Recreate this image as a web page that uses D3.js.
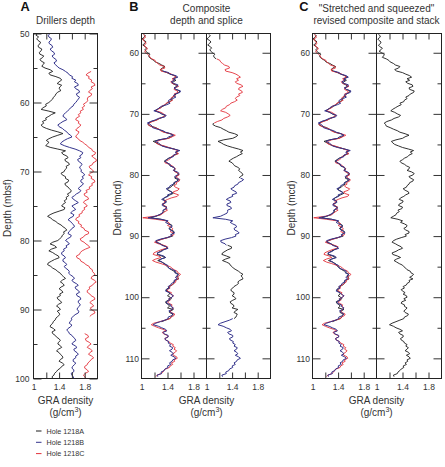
<!DOCTYPE html>
<html><head><meta charset="utf-8">
<script src="https://cdn.jsdelivr.net/npm/d3@7"></script>
<style>body{margin:0;background:#fff}svg{display:block}</style>
</head><body><svg id="c" width="445" height="467"></svg>
<script>
// ---------------- DATA ----------------
const mbsfDepth = [
50,50.25,50.5,50.75,51,51.25,51.5,51.75,52,52.25,52.5,52.75,53,53.25,53.5,53.75,54,54.25,54.5,54.75,
55,55.25,55.5,55.75,56,56.25,56.5,56.75,57,57.25,57.5,57.75,58,58.25,58.5,58.75,59,59.25,59.5,59.75,
60,60.25,60.5,60.75,61,61.25,61.5,61.75,62,62.25,62.5,62.75,63,63.25,63.5,63.75,64,64.25,64.5,64.75,
65,65.25,65.5,65.75,66,66.25,66.5,66.75,67,67.25,67.5,67.75,68,68.25,68.5,68.75,69,69.25,69.5,69.75,
70,70.25,70.5,70.75,71,71.25,71.5,71.75,72,72.25,72.5,72.75,73,73.25,73.5,73.75,74,74.25,74.5,74.75,
75,75.25,75.5,75.75,76,76.25,76.5,76.75,77,77.25,77.5,77.75,78,78.25,78.5,78.75,79,79.25,79.5,79.75,
80,80.25,80.5,80.75,81,81.25,81.5,81.75,82,82.25,82.5,82.75,83,83.25,83.5,83.75,84,84.25,84.5,84.75,
85,85.25,85.5,85.75,86,86.25,86.5,86.75,87,87.25,87.5,87.75,88,88.25,88.5,88.75,89,89.25,89.5,89.75,
90,90.25,90.5,90.75,91,91.25,91.5,91.75,92,92.25,92.5,92.75,93,93.25,93.5,93.75,94,94.25,94.5,94.75,
95,95.25,95.5,95.75,96,96.25,96.5,96.75,97,97.25,97.5,97.75,98,98.25,98.5,98.75,99,99.25,99.5,99.75,
100];
const holeA_mbsf = [
1.06,1.04,1.08,1.05,1.07,1.11,1.10,1.07,1.08,1.13,1.12,1.09,1.10,1.16,1.14,1.10,1.12,1.17,1.15,1.13,
1.18,1.26,1.30,1.24,1.26,1.35,1.42,1.44,1.40,1.37,1.44,1.41,1.40,1.43,1.38,1.35,1.34,1.31,1.30,1.27,
1.24,1.19,1.20,1.15,1.12,1.24,1.34,1.28,1.24,1.19,1.20,1.14,1.16,1.12,1.14,1.20,1.28,1.38,1.46,1.38,
1.30,1.24,1.20,1.24,1.22,1.19,1.26,1.38,1.50,1.44,1.46,1.52,1.54,1.49,1.50,1.55,1.56,1.51,1.52,1.49,
1.48,1.43,1.45,1.50,1.50,1.55,1.54,1.49,1.50,1.54,1.56,1.59,1.58,1.53,1.55,1.51,1.52,1.48,1.50,1.46,
1.44,1.49,1.48,1.40,1.32,1.26,1.22,1.27,1.30,1.35,1.38,1.43,1.46,1.50,1.52,1.47,1.48,1.45,1.44,1.41,
1.38,1.30,1.26,1.33,1.36,1.28,1.24,1.30,1.34,1.39,1.40,1.33,1.28,1.23,1.22,1.27,1.30,1.35,1.38,1.42,
1.44,1.47,1.50,1.45,1.42,1.46,1.48,1.43,1.40,1.44,1.46,1.41,1.42,1.37,1.38,1.42,1.44,1.39,1.36,1.40,
1.42,1.37,1.40,1.41,1.38,1.35,1.34,1.31,1.30,1.27,1.26,1.31,1.34,1.29,1.30,1.34,1.36,1.40,1.42,1.39,
1.38,1.42,1.44,1.39,1.36,1.40,1.42,1.45,1.46,1.42,1.40,1.45,1.48,1.44,1.42,1.38,1.36,1.33,1.32,1.29,
1.30];
const holeB_mbsf = [
1.26,1.23,1.24,1.28,1.27,1.24,1.25,1.29,1.30,1.26,1.28,1.32,1.33,1.29,1.31,1.35,1.36,1.32,1.34,1.37,
1.40,1.46,1.50,1.54,1.56,1.61,1.60,1.66,1.64,1.69,1.70,1.64,1.66,1.71,1.72,1.67,1.68,1.72,1.70,1.68,
1.66,1.63,1.62,1.58,1.56,1.53,1.50,1.47,1.46,1.50,1.52,1.46,1.42,1.38,1.40,1.45,1.48,1.52,1.54,1.58,
1.60,1.53,1.48,1.44,1.42,1.48,1.56,1.65,1.72,1.77,1.76,1.72,1.74,1.69,1.70,1.74,1.76,1.73,1.72,1.75,
1.74,1.78,1.80,1.76,1.78,1.74,1.74,1.78,1.76,1.72,1.70,1.74,1.72,1.67,1.64,1.60,1.62,1.66,1.70,1.65,
1.60,1.63,1.66,1.61,1.58,1.63,1.62,1.57,1.54,1.58,1.60,1.63,1.64,1.60,1.58,1.55,1.54,1.59,1.58,1.53,
1.50,1.54,1.56,1.51,1.52,1.47,1.48,1.44,1.44,1.48,1.50,1.46,1.46,1.50,1.52,1.48,1.50,1.54,1.56,1.55,
1.58,1.62,1.64,1.60,1.62,1.67,1.70,1.65,1.66,1.70,1.72,1.67,1.68,1.73,1.74,1.70,1.70,1.73,1.72,1.69,
1.68,1.71,1.70,1.65,1.62,1.59,1.60,1.57,1.56,1.60,1.58,1.54,1.52,1.55,1.56,1.60,1.62,1.65,1.66,1.62,
1.60,1.65,1.68,1.63,1.64,1.68,1.70,1.66,1.66,1.62,1.62,1.66,1.64,1.61,1.60,1.63,1.63,1.59,1.60,1.62,
1.63];
const holeC_mbsf = [
null,null,null,null,null,null,null,null,null,null,null,null,null,null,null,null,null,null,null,null,
null,null,1.90,1.85,1.82,1.87,1.86,1.91,1.90,1.95,1.96,1.90,1.92,1.88,1.86,1.91,1.90,1.85,1.84,1.85,
1.82,1.78,1.80,1.76,1.78,1.73,1.74,1.70,1.72,1.67,1.66,1.71,1.70,1.74,1.72,1.68,1.66,1.71,1.70,1.67,
1.66,1.70,1.72,1.77,1.80,1.84,1.86,1.91,1.92,1.97,1.96,1.91,1.94,1.98,1.98,1.93,1.92,1.87,1.88,1.92,
1.94,1.89,1.86,1.91,1.90,1.95,1.96,1.91,1.92,1.87,1.88,1.82,1.84,1.79,1.80,1.85,1.86,1.80,1.78,1.82,
1.84,1.79,1.80,1.76,1.76,1.71,1.72,1.67,1.66,1.71,1.70,1.75,1.74,1.79,1.80,1.86,1.86,1.80,1.78,1.73,
1.74,1.79,1.82,1.86,1.88,1.81,1.76,1.73,1.72,1.67,1.68,1.73,1.74,1.79,1.82,1.87,1.88,1.92,1.92,1.95,
1.96,1.91,1.90,1.95,1.98,1.94,1.92,1.87,1.88,1.84,1.84,1.88,1.90,1.95,1.96,1.91,1.88,1.92,1.94,1.89,
1.90,1.95,1.96,1.91,1.88,null,null,null,null,null,null,null,null,null,1.80,1.85,1.86,1.81,1.82,1.87,
1.90,1.86,1.84,1.89,1.92,1.88,1.86,1.91,1.94,1.90,1.88,1.85,1.84,1.80,1.80,1.84,1.86,1.81,1.78,1.80,
1.82];

const mcdDepth = [
57,57.25,57.5,57.75,58,58.25,58.5,58.75,59,59.25,59.5,59.75,60,60.25,60.5,60.75,61,61.25,61.5,61.75,
62,62.25,62.5,62.75,63,63.25,63.5,63.75,64,64.25,64.5,64.75,65,65.25,65.5,65.75,66,66.25,66.5,66.75,
67,67.25,67.5,67.75,68,68.25,68.5,68.75,69,69.25,69.5,69.75,70,70.25,70.5,70.75,71,71.25,71.5,71.75,
72,72.25,72.5,72.75,73,73.25,73.5,73.75,74,74.25,74.5,74.75,75,75.25,75.5,75.75,76,76.25,76.5,76.75,
77,77.25,77.5,77.75,78,78.25,78.5,78.75,79,79.25,79.5,79.75,80,80.25,80.5,80.75,81,81.25,81.5,81.75,
82,82.25,82.5,82.75,83,83.25,83.5,83.75,84,84.25,84.5,84.75,85,85.25,85.5,85.75,86,86.25,86.5,86.75,
87,87.25,87.5,87.75,88,88.25,88.5,88.75,89,89.25,89.5,89.75,90,90.25,90.5,90.75,91,91.25,91.5,91.75,
92,92.25,92.5,92.75,93,93.25,93.5,93.75,94,94.25,94.5,94.75,95,95.25,95.5,95.75,96,96.25,96.5,96.75,
97,97.25,97.5,97.75,98,98.25,98.5,98.75,99,99.25,99.5,99.75,100,100.25,100.5,100.75,101,101.25,101.5,101.75,
102,102.25,102.5,102.75,103,103.25,103.5,103.75,104,104.25,104.5,104.75,105,105.25,105.5,105.75,106,106.25,106.5,106.75,
107,107.25,107.5,107.75,108,108.25,108.5,108.75,109,109.25,109.5,109.75,110,110.25,110.5,110.75,111,111.25,111.5,111.75,
112,112.25,112.5,112.75,113];
const holeA_mcd = [
1.04,1.06,1.03,1.01,1.05,1.07,1.04,1.02,1.06,1.08,1.05,1.07,1.09,1.13,1.11,1.12,1.15,1.19,1.21,1.27,
1.31,1.36,1.32,1.29,1.33,1.39,1.44,1.51,1.54,1.49,1.53,1.49,1.47,1.52,1.55,1.50,1.53,1.59,1.57,1.53,
1.51,1.49,1.46,1.47,1.43,1.39,1.37,1.33,1.29,1.24,1.21,1.27,1.31,1.36,1.34,1.28,1.23,1.15,1.11,1.10,
1.14,1.22,1.26,1.31,1.35,1.44,1.49,1.46,1.41,1.27,1.18,1.23,1.27,1.33,1.41,1.50,1.57,1.53,1.56,1.51,
1.47,1.42,1.38,1.35,1.40,1.42,1.44,1.49,1.52,1.50,1.53,1.56,1.57,1.53,1.51,1.56,1.55,1.50,1.51,1.47,
1.45,1.40,1.41,1.46,1.49,1.44,1.39,1.35,1.33,1.38,1.37,1.33,1.34,1.39,1.37,1.34,1.35,1.31,1.29,1.22,
1.14,1.30,1.39,1.41,1.43,1.47,1.45,1.42,1.46,1.50,1.49,1.46,1.48,1.40,1.31,1.25,1.22,1.29,1.33,1.39,
1.39,1.33,1.29,1.25,1.24,1.31,1.37,1.30,1.25,1.31,1.36,1.37,1.40,1.42,1.46,1.50,1.53,1.57,1.54,1.56,
1.57,1.52,1.49,1.50,1.47,1.43,1.41,1.38,1.39,1.43,1.43,1.40,1.44,1.46,1.41,1.37,1.38,1.42,1.43,1.40,
1.49,1.45,1.43,1.48,1.47,1.46,1.43,1.37,1.31,null,null,null,null,null,null,null,null,null,null,null,
null,null,null,null,null,null,null,null,null,null,null,null,null,null,null,null,null,null,null,null,
null,null,null,null,null];
const holeB_mcd = [
null,null,null,null,null,null,null,null,null,null,null,null,null,null,null,null,null,null,null,null,
null,null,null,null,1.33,1.42,1.44,1.53,1.56,1.49,1.51,1.46,1.49,1.56,1.55,1.50,1.53,1.60,1.59,1.52,
1.49,1.53,1.48,1.42,1.41,1.44,1.39,1.31,1.27,1.25,1.19,1.27,1.31,1.38,1.36,1.26,1.21,1.14,1.09,1.14,
1.16,1.17,1.24,1.33,1.37,1.45,1.49,1.42,1.39,1.27,1.21,1.26,1.29,1.31,1.39,1.50,1.59,1.52,1.54,1.49,
1.49,1.42,1.39,1.36,1.39,1.44,1.44,1.50,1.51,1.49,1.55,1.58,1.55,1.51,1.53,1.58,1.55,1.50,1.49,1.44,
1.43,1.38,1.41,1.46,1.47,1.40,1.41,1.35,1.31,1.37,1.38,1.32,1.32,1.38,1.39,1.33,1.33,1.32,1.27,1.22,
1.10,1.30,1.41,1.37,1.41,1.46,1.47,1.43,1.44,1.49,1.51,1.45,1.46,1.39,1.29,1.22,1.23,1.29,1.31,1.38,
1.41,1.34,1.31,1.24,1.26,1.34,1.37,1.30,1.27,1.32,1.34,1.40,1.41,1.42,1.48,1.53,1.51,1.56,1.56,1.52,
1.55,1.50,1.51,1.46,1.45,1.41,1.43,1.38,1.37,1.43,1.45,1.49,1.47,1.42,1.43,1.38,1.39,1.45,1.45,1.49,
1.47,1.42,1.45,1.49,1.47,1.41,1.41,1.36,1.29,1.22,1.18,1.26,1.31,1.37,1.39,1.33,1.35,1.41,1.41,1.36,
1.37,1.42,1.41,1.45,1.43,1.48,1.47,1.43,1.47,1.49,1.45,1.50,1.53,1.48,1.47,1.43,1.45,1.40,1.41,1.36,
1.35,1.30,1.31,1.24,1.25];
const holeC_mcd = [
1.03,1.05,1.06,1.02,1.03,1.06,1.07,1.04,1.05,1.09,1.08,1.05,1.06,1.10,1.12,1.13,1.16,1.21,1.22,1.25,
1.28,1.35,1.36,1.29,1.30,1.40,1.46,1.50,1.53,1.47,1.50,1.45,1.47,1.54,1.57,1.51,1.50,1.55,1.56,1.50,
1.52,1.47,1.45,1.48,1.44,1.38,1.36,1.31,1.30,1.25,1.22,1.30,1.34,1.37,1.33,1.27,1.24,1.17,1.12,1.10,
1.13,1.20,1.27,1.29,1.34,1.45,1.52,1.47,1.42,1.30,1.24,1.22,1.26,1.35,1.42,1.49,1.56,1.53,1.57,1.50,
1.46,1.45,1.42,1.37,1.36,1.43,1.47,1.50,1.52,1.49,1.52,1.57,1.58,1.53,1.55,1.59,1.58,1.53,1.54,1.50,
1.52,1.58,1.56,1.49,1.50,1.57,1.55,1.46,1.40,1.35,1.36,1.32,1.35,1.39,1.36,1.40,1.36,1.33,1.30,1.20,
1.02,1.22,1.38,1.41,1.44,1.40,1.45,1.48,1.47,1.44,1.49,1.50,1.45,1.40,1.32,1.25,1.20,1.26,1.34,1.40,
1.38,1.30,1.24,1.19,1.18,1.26,1.30,1.22,1.17,1.22,1.30,1.37,1.44,1.47,1.50,1.55,1.56,1.60,1.58,1.54,
1.57,1.52,1.53,1.49,1.47,1.42,1.44,1.40,1.40,1.46,1.45,1.49,1.47,1.42,1.44,1.40,1.42,1.47,1.46,1.49,
1.47,1.44,1.46,1.51,1.50,1.45,1.44,1.36,1.28,1.19,1.15,1.20,1.26,1.33,1.38,1.32,1.34,1.40,1.41,1.36,
1.37,1.42,1.44,1.49,1.48,1.52,1.50,1.54,1.52,1.48,1.49,1.54,1.55,1.50,1.51,1.46,1.48,1.44,1.43,1.37,
1.34,1.33,1.30,1.24,1.22];
const stack_mcd = [
1.03,1.06,1.05,1.02,1.04,1.07,1.06,1.03,1.05,1.09,1.07,1.04,1.08,1.12,1.11,1.09,1.15,1.19,1.21,1.26,
1.29,1.36,1.34,1.28,1.31,1.40,1.45,1.51,1.54,1.47,1.51,1.45,1.48,1.55,1.56,1.50,1.51,1.58,1.57,1.52,
1.50,1.45,1.47,1.43,1.42,1.36,1.38,1.33,1.29,1.25,1.22,1.28,1.32,1.37,1.34,1.27,1.23,1.16,1.12,1.14,
1.15,1.21,1.26,1.32,1.36,1.44,1.50,1.44,1.40,1.30,1.23,1.25,1.28,1.34,1.40,1.49,1.57,1.52,1.55,1.50,
1.48,1.43,1.40,1.36,1.38,1.43,1.46,1.51,1.50,1.47,1.54,1.58,1.56,1.50,1.52,1.57,1.56,1.51,1.50,1.47,
1.46,1.41,1.44,1.49,1.50,1.45,1.42,1.37,1.35,1.41,1.40,1.35,1.34,1.40,1.39,1.33,1.35,1.31,1.30,1.26,
1.22,1.33,1.40,1.37,1.43,1.47,1.46,1.42,1.45,1.50,1.50,1.44,1.46,1.38,1.31,1.26,1.24,1.29,1.33,1.38,
1.40,1.34,1.30,1.24,1.25,1.32,1.37,1.31,1.27,1.31,1.35,1.40,1.42,1.45,1.47,1.52,1.53,1.57,1.55,1.51,
1.56,1.50,1.51,1.47,1.46,1.41,1.43,1.38,1.40,1.44,1.41,1.46,1.47,1.42,1.45,1.39,1.38,1.43,1.43,1.47,
1.45,1.42,1.44,1.49,1.48,1.43,1.42,1.36,1.30,1.24,1.20,1.26,1.30,1.36,1.40,1.34,1.36,1.41,1.41,1.37,
1.38,1.42,1.43,1.47,1.45,1.49,1.47,1.44,1.49,1.51,1.46,1.50,1.52,1.47,1.48,1.44,1.46,1.41,1.42,1.38,
1.36,1.33,1.32,1.26,1.27];
// splice tie points: which hole is used over which depth interval (mcd)
const spliceHoles = ["A","C","A","B","A","B"];
const spliceFrom  = [57, 61, 71.5, 80.5, 91.5, 103.5];
const spliceTo    = [61, 71.5, 80.5, 91.5, 103.5, 113];

const xTickValues = [1.2, 1.4, 1.6, 1.8];
const xTickLabels = [1, 1.4, 1.8];
const mbsfMajor = [50, 60, 70, 80, 90, 100];
const mbsfMinor = [55, 65, 75, 85, 95];
const mcdMajor = [60, 70, 80, 90, 100, 110];
const mcdMinor = [65, 75, 85, 95, 105];
const panelLetters = ["A", "B", "C"];
const panelTitles = [["Drillers depth"], ["Composite", "depth and splice"], ["\"Stretched and squeezed\"", "revised composite and stack"]];
const depthTitles = ["Depth (mbsf)", "Depth (mcd)", "Depth (mcd)"];
const legendKeys = ["A", "B", "C"];
const legendLabels = ["Hole 1218A", "Hole 1218B", "Hole 1218C"];

// ---------------- DRAW ----------------
const FONT = '"Liberation Sans", Arial, Helvetica, sans-serif';
const COLORS = {A: "#1c1c1c", B: "#34348c", C: "#e3323b"};
const WIDTHS = {A: 0.9, B: 1.0, C: 0.9};
const svg = d3.select("#c");
const TOP = 33.5, BOT = 378.5;
const yMbsf = d3.scaleLinear([50, 100], [TOP, BOT]);
const yMcd = d3.scaleLinear([56.85, 113.3], [TOP, BOT]);
const series = (depths, vals) => depths.map((d, i) => ({d, v: vals[i]}));

let clipN = 0;
function subplot(x0, x1, y, major, minor, showLabels, labelPad, drawFn) {
  const x = d3.scaleLinear([1, 2], [x0, x1]);
  const id = "clip" + (clipN++);
  svg.append("clipPath").attr("id", id).append("rect")
    .attr("x", x0).attr("y", TOP).attr("width", x1 - x0).attr("height", BOT - TOP);
  const lg = svg.append("g").attr("clip-path", `url(#${id})`);
  const line = d3.line().defined(p => p.v != null).x(p => x(p.v)).y(p => y(p.d));
  drawFn(lg, line);
  const ax = svg.append("g").attr("color", "#333");
  const clean = g => { g.select(".domain").remove(); g.attr("font-family", FONT).attr("font-size", 8.5); g.selectAll("text").attr("fill", "#333"); };
  ax.append("g").attr("transform", `translate(${x0},0)`)
    .call(d3.axisLeft(y).tickValues(major).tickSize(-8).tickSizeOuter(0).tickPadding(labelPad).tickFormat(showLabels ? d3.format("d") : () => "")).call(clean);
  ax.append("g").attr("transform", `translate(${x0},0)`)
    .call(d3.axisLeft(y).tickValues(minor).tickSize(-4).tickSizeOuter(0).tickFormat(() => "")).call(clean);
  ax.append("g").attr("transform", `translate(${x1},0)`)
    .call(d3.axisRight(y).tickValues(major).tickSize(-8).tickSizeOuter(0).tickFormat(() => "")).call(clean);
  ax.append("g").attr("transform", `translate(${x1},0)`)
    .call(d3.axisRight(y).tickValues(minor).tickSize(-4).tickSizeOuter(0).tickFormat(() => "")).call(clean);
  ax.append("g").attr("transform", `translate(0,${TOP})`)
    .call(d3.axisTop(x).tickValues(xTickValues).tickSize(-6).tickSizeOuter(0).tickFormat(() => "")).call(clean);
  ax.append("g").attr("transform", `translate(0,${BOT})`)
    .call(d3.axisBottom(x).tickValues(xTickValues).tickSize(-6).tickSizeOuter(0).tickFormat(() => "")).call(clean);
  ax.append("g").attr("transform", `translate(0,${BOT})`)
    .call(d3.axisBottom(x).tickValues(xTickLabels).tickSize(0).tickPadding(5).tickFormat(d3.format("~g"))).call(clean);
  svg.append("rect").attr("x", x0).attr("y", TOP).attr("width", x1 - x0).attr("height", BOT - TOP)
    .attr("fill", "none").attr("stroke", "#222").attr("stroke-width", 1);
}
function drawPath(g, line, data, key) {
  g.append("path").datum(data).attr("d", line).attr("fill", "none")
    .attr("stroke", COLORS[key]).attr("stroke-width", WIDTHS[key]).attr("stroke-linejoin", "round");
}
const mbsfSeries = {A: series(mbsfDepth, holeA_mbsf), B: series(mbsfDepth, holeB_mbsf), C: series(mbsfDepth, holeC_mbsf)};
const mcdSeries = {A: series(mcdDepth, holeA_mcd), B: series(mcdDepth, holeB_mcd), C: series(mcdDepth, holeC_mcd)};
const stackSeries = series(mcdDepth, stack_mcd);

// Panel A
subplot(33.5, 97.5, yMbsf, mbsfMajor, mbsfMinor, true, 4, (g, line) => {
  ["A", "B", "C"].forEach(k => drawPath(g, line, mbsfSeries[k], k));
});
// Panel B
subplot(141.5, 206.5, yMcd, mcdMajor, mcdMinor, true, 2.5, (g, line) => {
  ["A", "C", "B"].forEach(k => drawPath(g, line, mcdSeries[k], k));
});
subplot(206.5, 270.5, yMcd, mcdMajor, mcdMinor, false, 2.5, (g, line) => {
  spliceHoles.forEach((k, i) => {
    drawPath(g, line, mcdSeries[k].filter(p => p.d >= spliceFrom[i] && p.d <= spliceTo[i]), k);
  });
});
// Panel C
subplot(312.5, 376.5, yMcd, mcdMajor, mcdMinor, true, 2.5, (g, line) => {
  ["A", "C", "B"].forEach(k => drawPath(g, line, mcdSeries[k], k));
});
subplot(376.5, 441.5, yMcd, mcdMajor, mcdMinor, false, 2.5, (g, line) => {
  drawPath(g, line, stackSeries, "A");
});

// Titles
const letterX = [20.5, 129.3, 299.3];
const titleCX = [65.5, 206.5, 376.5];
panelLetters.forEach((t, i) => {
  svg.append("text").attr("x", letterX[i]).attr("y", 10.8).text(t)
    .attr("font-family", FONT).attr("font-weight", "bold").attr("font-size", 12.8).attr("fill", "#111");
  const lines = panelTitles[i];
  lines.forEach((s, j) => {
    const yb = lines.length === 1 ? 24 : (j === 0 ? 11.5 : 24);
    svg.append("text").attr("x", titleCX[i]).attr("y", yb).attr("text-anchor", "middle").text(s)
      .attr("font-family", FONT).attr("font-size", 10).attr("fill", "#333");
  });
  svg.append("text").attr("x", titleCX[i]).attr("y", 403.5).attr("text-anchor", "middle").text("GRA density")
    .attr("font-family", FONT).attr("font-size", 10).attr("fill", "#333");
  const u = svg.append("text").attr("x", titleCX[i]).attr("y", 415.5).attr("text-anchor", "middle")
    .attr("font-family", FONT).attr("font-size", 10).attr("fill", "#333");
  u.append("tspan").text("(g/cm");
  u.append("tspan").attr("dy", -4).attr("font-size", 7).text("3");
  u.append("tspan").attr("dy", 4).text(")");
});
const depthTX = [10.5, 121, 294.5];
depthTitles.forEach((s, i) => {
  svg.append("text").attr("transform", `translate(${depthTX[i]},208) rotate(-90)`).attr("text-anchor", "middle").text(s)
    .attr("font-family", FONT).attr("font-size", 10).attr("fill", "#333");
});
// Legend
legendKeys.forEach((k, i) => {
  const yy = 431 + i * 11.3;
  svg.append("line").attr("x1", 36).attr("x2", 41.5).attr("y1", yy).attr("y2", yy)
    .attr("stroke", COLORS[k]).attr("stroke-width", 1);
  svg.append("text").attr("x", 46.5).attr("y", yy + 2.6).text(legendLabels[i])
    .attr("font-family", FONT).attr("font-size", 7.2).attr("fill", "#333");
});
</script></body></html>
